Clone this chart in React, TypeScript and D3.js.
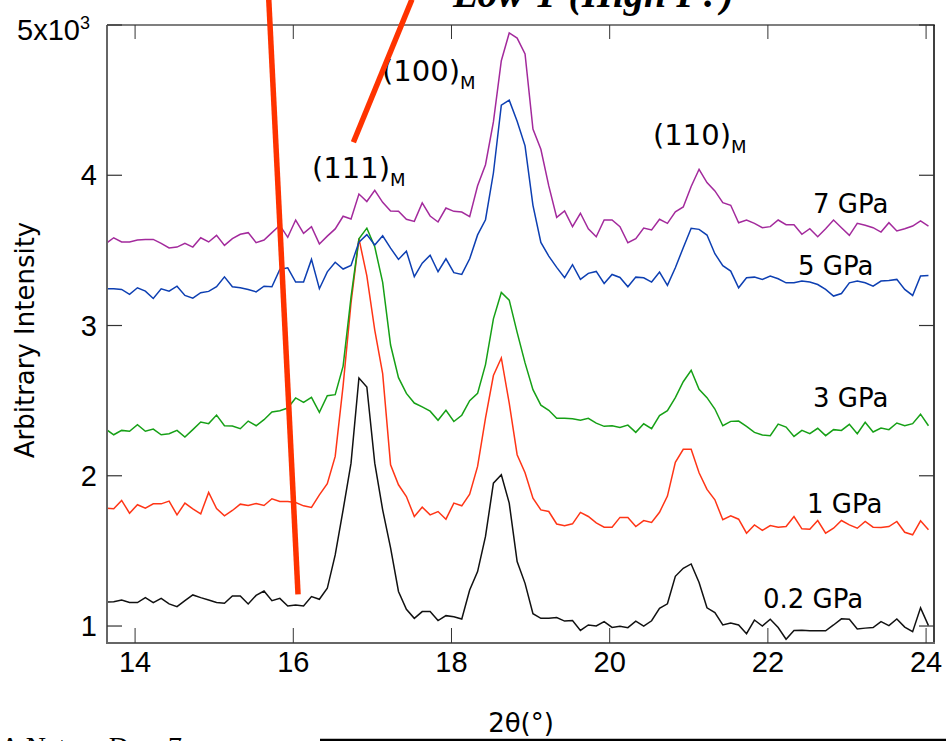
import React from "react";
import * as d3 from "d3";

// scan sampling (2θ, degrees)
const SCAN_START = 13.63;
const SCAN_STEP = 0.1;

// intensities in units of 10^3 counts
const gpa7 = [
  3.545, 3.584, 3.556, 3.556, 3.569, 3.573, 3.573, 3.547, 3.516, 3.522, 3.547,
  3.522, 3.584, 3.556, 3.6, 3.533, 3.578, 3.607, 3.618, 3.551, 3.569,
  3.618, 3.667, 3.587, 3.702, 3.613, 3.658, 3.543, 3.595, 3.643, 3.727,
  3.709, 3.875, 3.825, 3.899, 3.82, 3.762, 3.761, 3.707, 3.693, 3.816,
  3.729, 3.689, 3.782, 3.76, 3.755, 3.725, 3.93, 4.07, 4.355, 4.762,
  4.947, 4.913, 4.807, 4.307, 4.173, 3.929, 3.72, 3.762, 3.658, 3.747,
  3.644, 3.591, 3.702, 3.702, 3.658, 3.551, 3.578, 3.649, 3.636, 3.707,
  3.68, 3.756, 3.789, 3.925, 4.04, 3.951, 3.896, 3.818, 3.8, 3.684,
  3.702, 3.68, 3.651, 3.658, 3.702, 3.671, 3.671, 3.607, 3.644, 3.591,
  3.644, 3.702, 3.651, 3.6, 3.68, 3.667, 3.651, 3.622, 3.684, 3.629,
  3.644, 3.662, 3.696, 3.662,
];
const gpa5 = [
  3.244, 3.244, 3.24, 3.207, 3.251, 3.229, 3.18, 3.244, 3.229, 3.262, 3.2,
  3.182, 3.218, 3.227, 3.258, 3.324, 3.258, 3.251, 3.24, 3.224, 3.262,
  3.258, 3.373, 3.384, 3.289, 3.289, 3.44, 3.245, 3.357, 3.421, 3.376,
  3.4, 3.555, 3.605, 3.536, 3.597, 3.515, 3.44, 3.495, 3.325, 3.415,
  3.468, 3.358, 3.444, 3.352, 3.34, 3.444, 3.603, 3.704, 4.015, 4.466,
  4.5, 4.36, 4.196, 3.8, 3.553, 3.462, 3.387, 3.318, 3.405, 3.307,
  3.347, 3.36, 3.28, 3.34, 3.32, 3.258, 3.322, 3.318, 3.289, 3.356,
  3.267, 3.384, 3.518, 3.647, 3.64, 3.602, 3.478, 3.398, 3.362, 3.251,
  3.318, 3.322, 3.307, 3.329, 3.311, 3.284, 3.284, 3.296, 3.289, 3.273,
  3.24, 3.196, 3.213, 3.284, 3.296, 3.284, 3.262, 3.296, 3.3, 3.307,
  3.24, 3.2, 3.329, 3.333,
];
const gpa3 = [
  2.31, 2.273, 2.302, 2.296, 2.34, 2.296, 2.311, 2.273, 2.28, 2.302, 2.258,
  2.307, 2.358, 2.347, 2.404, 2.333, 2.331, 2.313, 2.364, 2.333, 2.373,
  2.424, 2.433, 2.451, 2.518, 2.489, 2.522, 2.422, 2.533, 2.54, 2.73,
  3.19, 3.577, 3.648, 3.524, 3.287, 2.87, 2.653, 2.548, 2.484, 2.458,
  2.43, 2.369, 2.436, 2.361, 2.403, 2.5, 2.548, 2.74, 3.044, 3.22,
  3.169, 2.954, 2.751, 2.573, 2.47, 2.436, 2.382, 2.382, 2.379, 2.369,
  2.382, 2.35, 2.329, 2.333, 2.322, 2.337, 2.289, 2.346, 2.313, 2.4,
  2.433, 2.52, 2.626, 2.702, 2.575, 2.52, 2.444, 2.333, 2.362, 2.364,
  2.329, 2.289, 2.271, 2.267, 2.344, 2.324, 2.262, 2.302, 2.28, 2.316,
  2.267, 2.307, 2.302, 2.342, 2.28, 2.356, 2.291, 2.318, 2.307, 2.351,
  2.333, 2.347, 2.41, 2.333,
];
const gpa1 = [
  1.784, 1.78, 1.836, 1.751, 1.807, 1.784, 1.813, 1.813, 1.831, 1.74, 1.818,
  1.78, 1.747, 1.889, 1.782, 1.733, 1.769, 1.811, 1.802, 1.816, 1.802,
  1.847, 1.829, 1.829, 1.822, 1.8, 1.789, 1.873, 1.947, 2.129, 2.6,
  3.15, 3.578, 3.33, 2.97, 2.68, 2.073, 1.94, 1.862, 1.729, 1.791,
  1.74, 1.762, 1.711, 1.818, 1.8, 1.878, 2.062, 2.384, 2.667, 2.784,
  2.484, 2.14, 2.02, 1.851, 1.773, 1.762, 1.679, 1.667, 1.68, 1.756,
  1.729, 1.686, 1.658, 1.658, 1.723, 1.722, 1.662, 1.702, 1.689, 1.757,
  1.865, 2.09, 2.176, 2.176, 2.02, 1.909, 1.84, 1.707, 1.733, 1.711,
  1.618, 1.673, 1.636, 1.669, 1.658, 1.662, 1.729, 1.647, 1.644, 1.702,
  1.618, 1.651, 1.702, 1.673, 1.651, 1.696, 1.658, 1.656, 1.662, 1.696,
  1.624, 1.607, 1.7, 1.64,
];
const gpa02 = [
  1.16, 1.162, 1.173, 1.156, 1.156, 1.189, 1.156, 1.184, 1.147, 1.129, 1.169,
  1.207, 1.189, 1.173, 1.156, 1.151, 1.2, 1.2, 1.147, 1.204, 1.233,
  1.169, 1.184, 1.133, 1.14, 1.133, 1.196, 1.178, 1.251, 1.473, 1.773,
  2.084, 2.651, 2.591, 2.084, 1.773, 1.52, 1.23, 1.111, 1.051, 1.096,
  1.096, 1.036, 1.069, 1.062, 1.047, 1.24, 1.362, 1.596, 1.951, 2.007,
  1.818, 1.429, 1.284, 1.082, 1.051, 1.051, 1.056, 1.033, 1.037, 0.971,
  1.007, 1.0, 1.029, 0.991, 0.998, 0.989, 1.032, 1.0, 1.035, 1.118,
  1.148, 1.331, 1.384, 1.413, 1.29, 1.121, 1.089, 1.007, 1.02, 1.007,
  0.949, 1.04, 1.0, 1.045, 0.99, 0.912, 0.971, 0.972, 0.969, 0.968,
  0.968, 1.007, 1.048, 1.045, 0.98, 0.986, 0.99, 1.029, 1.003, 1.047,
  0.993, 0.962, 1.121, 1.003,
];

const seriesNames = ["0.2 GPa", "1 GPa", "3 GPa", "5 GPa", "7 GPa"];
const seriesValues = [gpa02, gpa1, gpa3, gpa5, gpa7];
const seriesColors = ["#111111", "#ff3516", "#16a016", "#0d3fb2", "#a32a9c"];

const xTicks = [14, 16, 18, 20, 22, 24];
const yTicks = [1, 2, 3, 4, 5];

// annotation guide lines (2θ, intensity) endpoints
const guideA = [[15.69, 5.17], [16.06, 1.21]];
const guideB = [[17.5, 5.17], [16.76, 4.22]];

export default function App() {
  const L = 107, R = 934, T = 25, B = 643;
  const x = d3.scaleLinear().domain([13.645, 24.1]).range([L, R]);
  const y = d3.scaleLinear().domain([0.887, 5.0]).range([B, T]);
  const line = d3
    .line<number>()
    .x((_, i) => x(SCAN_START + SCAN_STEP * i))
    .y((d) => y(d));
  const gline = d3
    .line<number[]>()
    .x((d) => x(d[0]))
    .y((d) => y(d[1]));

  const tickFont = "'Liberation Sans', Arial, sans-serif";
  const lblFont = "'DejaVu Sans', sans-serif";

  const gpaPos: Record<string, [number, number]> = {
    "7 GPa": [813, 213],
    "5 GPa": [798, 275],
    "3 GPa": [813, 407],
    "1 GPa": [807, 513],
    "0.2 GPa": [763, 608],
  };

  return (
    <svg
      width={946}
      height={741}
      style={{ position: "absolute", left: 0, top: 0, background: "#fff" }}
    >
      <rect x={0} y={0} width={946} height={741} fill="#fff" />
      <defs>
        <clipPath id="plotClip">
          <rect x={L} y={T} width={R - L} height={B - T} />
        </clipPath>
      </defs>

      <text
        x={453}
        y={7}
        fontFamily="'Liberation Serif', 'Times New Roman', serif"
        fontStyle="italic"
        fontWeight="bold"
        fontSize={40}
        fill="#000"
      >
        Low T (High P?)
      </text>

      <g clipPath="url(#plotClip)">
        {seriesValues.map((vals, i) => (
          <path
            key={seriesNames[i]}
            d={line(vals) || ""}
            fill="none"
            stroke={seriesColors[i]}
            strokeWidth={1.5}
            strokeLinejoin="miter"
          />
        ))}
      </g>

      {/* frame */}
      <line x1={L} y1={T} x2={R + 1} y2={T} stroke="#000" strokeWidth={1.2} />
      <line x1={R} y1={T} x2={R} y2={B} stroke="#000" strokeWidth={1.5} />
      <line x1={L} y1={B} x2={R + 1} y2={B} stroke="#666" strokeWidth={2} />
      <line x1={L} y1={T} x2={L} y2={B + 1} stroke="#666" strokeWidth={2} />

      {xTicks.map((t) => (
        <g key={"xt" + t}>
          <line x1={x(t)} x2={x(t)} y1={B} y2={B - 15} stroke="#333" strokeWidth={1} />
          <line x1={x(t)} x2={x(t)} y1={T} y2={T + 14} stroke="#333" strokeWidth={1} />
          <text
            x={x(t)}
            y={672}
            textAnchor="middle"
            fontFamily={tickFont}
            fontSize={29}
            fill="#000"
          >
            {t}
          </text>
        </g>
      ))}
      {yTicks.map((t) => (
        <g key={"yt" + t}>
          <line x1={L} x2={L + 15} y1={y(t)} y2={y(t)} stroke="#333" strokeWidth={1.2} />
          <line x1={R} x2={R - 15} y1={y(t)} y2={y(t)} stroke="#333" strokeWidth={1.2} />
          {t < 5 ? (
            <text
              x={97}
              y={y(t) + 10}
              textAnchor="end"
              fontFamily={tickFont}
              fontSize={29}
              fill="#000"
            >
              {t}
            </text>
          ) : (
            <text x={17} y={40} fontFamily={tickFont} fontSize={29} fill="#000">
              {"5x10"}
              <tspan dy={-11} fontSize={18}>
                3
              </tspan>
            </text>
          )}
        </g>
      ))}

      {/* peak labels */}
      <text x={382} y={81} fontFamily={lblFont} fontSize={29} fill="#000">
        (100)
        <tspan dy={8} fontSize={18}>
          M
        </tspan>
      </text>
      <text x={312} y={178} fontFamily={lblFont} fontSize={29} fill="#000">
        (111)
        <tspan dy={8} fontSize={18}>
          M
        </tspan>
      </text>
      <text x={653} y={145} fontFamily={lblFont} fontSize={29} fill="#000">
        (110)
        <tspan dy={8} fontSize={18}>
          M
        </tspan>
      </text>

      {seriesNames.map((n) => (
        <text
          key={"lbl" + n}
          x={gpaPos[n][0]}
          y={gpaPos[n][1]}
          fontFamily={lblFont}
          fontSize={26}
          fill="#000"
        >
          {n}
        </text>
      ))}

      {/* guide lines */}
      <path d={gline(guideA) || ""} stroke="#ff3300" strokeWidth={5.5} fill="none" />
      <path d={gline(guideB) || ""} stroke="#ff3300" strokeWidth={5.5} fill="none" />

      {/* axis titles */}
      <text
        transform="translate(34,340) rotate(-90)"
        textAnchor="middle"
        fontFamily={lblFont}
        fontSize={26}
        fill="#000"
      >
        Arbitrary Intensity
      </text>
      <text x={521} y={732} textAnchor="middle" fontFamily={lblFont} fontSize={26} fill="#000">
        2θ(°)
      </text>

      <line x1={320} y1={740} x2={946} y2={740} stroke="#000" strokeWidth={2.5} />
      <text
        x={0}
        y={756}
        fontFamily="'Liberation Serif', serif"
        fontSize={28}
        fill="#000"
      >
        A Nature    Dec. 7
      </text>
    </svg>
  );
}
